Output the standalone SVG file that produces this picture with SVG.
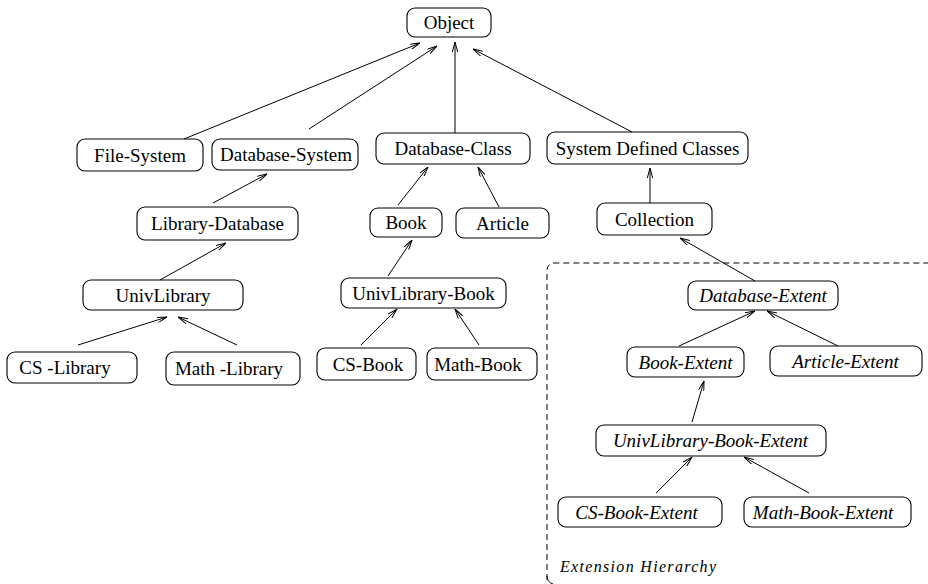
<svg xmlns="http://www.w3.org/2000/svg" width="928" height="584" viewBox="0 0 928 584">
<style>
rect{fill:#fff;stroke:#000;stroke-width:1.1}
text{font-family:"Liberation Serif","Times New Roman",serif;font-size:19px;fill:#000;text-anchor:middle}
.it{font-style:italic}
#connectors line{stroke:#000;stroke-width:1;marker-end:url(#arr)}
</style>
<defs>
<marker id="arr" viewBox="0 0 10 6" refX="10" refY="3" markerWidth="10" markerHeight="6" markerUnits="userSpaceOnUse" orient="auto">
<path d="M0,0.3 L10,3 L0,5.7" fill="none" stroke="#000" stroke-width="1"/>
</marker>
</defs>
<rect width="928" height="584" style="fill:#fff;stroke:none"/>
<path d="M547,580 L547,271 Q547,263 555,263 L928,263" fill="none" stroke="#000" stroke-width="1" stroke-dasharray="6,4"/>
<path d="M547,576 Q547,582 553,584" fill="none" stroke="#000" stroke-width="1"/>
<g id="n-object"><rect x="407" y="8" width="84" height="29" rx="8"/><text x="449" y="29">Object</text></g>
<g id="n-filesystem"><rect x="77" y="139" width="126" height="32" rx="8"/><text x="140" y="161.5">File-System</text></g>
<g id="n-dbsystem"><rect x="212" y="139" width="146" height="31" rx="8"/><text x="286" y="161">Database-System</text></g>
<g id="n-dbclass"><rect x="376" y="133" width="154" height="31" rx="8"/><text x="453" y="155">Database-Class</text></g>
<g id="n-sdc"><rect x="547" y="132" width="201" height="32" rx="8"/><text x="647.5" y="154.5">System Defined Classes</text></g>
<g id="n-libdb"><rect x="137" y="207" width="161" height="33" rx="8"/><text x="217.5" y="230">Library-Database</text></g>
<g id="n-book"><rect x="370" y="208" width="72" height="29" rx="8"/><text x="406" y="229">Book</text></g>
<g id="n-article"><rect x="456" y="208" width="93" height="30" rx="8"/><text x="502.5" y="229.5">Article</text></g>
<g id="n-collection"><rect x="597" y="203" width="115" height="32" rx="8"/><text x="654.5" y="225.5">Collection</text></g>
<g id="n-univlib"><rect x="83" y="280" width="160" height="30" rx="8"/><text x="163" y="301.5">UnivLibrary</text></g>
<g id="n-univbook"><rect x="341" y="278" width="165" height="30" rx="8"/><text x="423.5" y="299.5">UnivLibrary-Book</text></g>
<g id="n-cslib"><rect x="7" y="352" width="130" height="31" rx="8"/><text x="65" y="374">CS -Library</text></g>
<g id="n-mathlib"><rect x="166" y="352" width="134" height="33" rx="8"/><text x="229" y="375">Math -Library</text></g>
<g id="n-csbook"><rect x="317" y="348" width="99" height="32" rx="8"/><text x="368" y="370.5">CS-Book</text></g>
<g id="n-mathbook"><rect x="427" y="348" width="110" height="32" rx="8"/><text x="478" y="370.5">Math-Book</text></g>
<g id="n-dbext"><rect x="688" y="281" width="150" height="29" rx="8"/><text class="it" x="763" y="302">Database-Extent</text></g>
<g id="n-bookext"><rect x="627" y="347" width="117" height="30" rx="8"/><text class="it" x="685.5" y="368.5">Book-Extent</text></g>
<g id="n-artext"><rect x="770" y="346" width="152" height="30" rx="8"/><text class="it" x="845.5" y="367.5">Article-Extent</text></g>
<g id="n-ubext"><rect x="596" y="425" width="230" height="31" rx="8"/><text class="it" x="710.5" y="447">UnivLibrary-Book-Extent</text></g>
<g id="n-csbext"><rect x="558" y="497" width="164" height="30" rx="8"/><text class="it" x="636.5" y="518.5">CS-Book-Extent</text></g>
<g id="n-mbext"><rect x="744" y="497" width="167" height="30" rx="8"/><text class="it" x="823" y="518.5">Math-Book-Extent</text></g>
<text class="it" x="560" y="572" style="text-anchor:start;font-size:16px" textLength="156">Extension Hierarchy</text>
<g id="connectors">
<line x1="184" y1="139" x2="420" y2="43"/>
<line x1="309" y1="129" x2="437" y2="46"/>
<line x1="455" y1="133" x2="455" y2="42"/>
<line x1="632" y1="132" x2="473" y2="49"/>
<line x1="213" y1="203" x2="267" y2="174"/>
<line x1="160" y1="280" x2="226" y2="243"/>
<line x1="78" y1="345" x2="167" y2="317"/>
<line x1="237" y1="345" x2="178" y2="317"/>
<line x1="398" y1="205" x2="428" y2="167"/>
<line x1="499" y1="207" x2="478" y2="167"/>
<line x1="650" y1="203" x2="650" y2="168"/>
<line x1="388" y1="276" x2="412" y2="240"/>
<line x1="755" y1="281" x2="680" y2="238"/>
<line x1="361" y1="345" x2="397" y2="309"/>
<line x1="479" y1="345" x2="455" y2="309"/>
<line x1="679" y1="346" x2="755" y2="311"/>
<line x1="838" y1="346" x2="767" y2="311"/>
<line x1="692" y1="422" x2="704" y2="381"/>
<line x1="656" y1="493" x2="692" y2="457"/>
<line x1="809" y1="493" x2="744" y2="457"/>
</g>
</svg>
